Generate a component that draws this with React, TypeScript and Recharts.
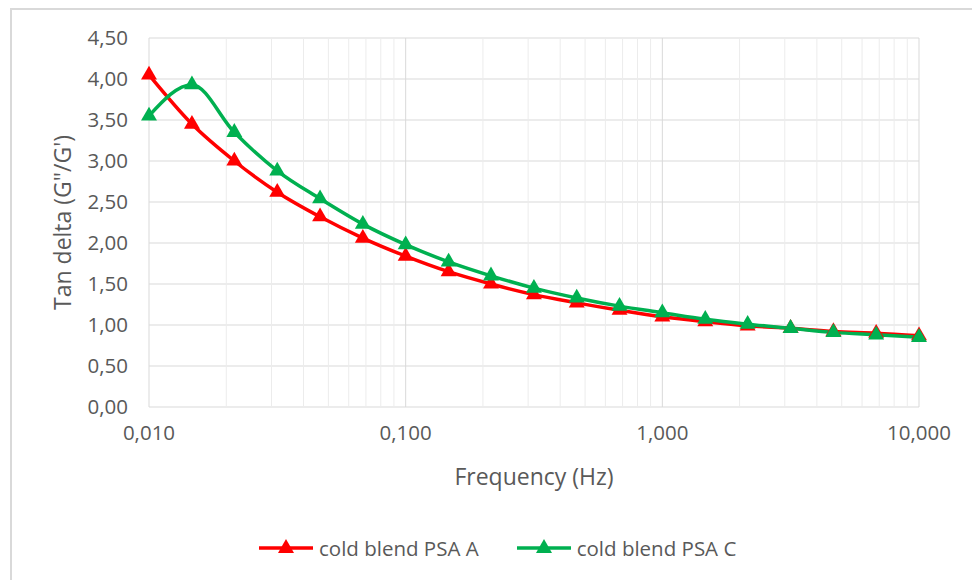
import React from 'react'
import {
  CartesianGrid,
  Line,
  LineChart,
  ReferenceLine,
  Symbols,
  XAxis,
  YAxis,
} from 'recharts'

// Frequenzen (Hz), 6 Punkte pro Dekade
const freq = [
  0.01, 0.0147, 0.0215, 0.0316, 0.0464, 0.0681, 0.1, 0.147, 0.215, 0.316, 0.464,
  0.681, 1, 1.47, 2.15, 3.16, 4.64, 6.81, 10,
]
const psaA = [
  4.05, 3.45, 3.0, 2.62, 2.32, 2.06, 1.84, 1.65, 1.5, 1.37, 1.27, 1.18, 1.1, 1.04,
  0.99, 0.96, 0.92, 0.9, 0.87,
]
const psaC = [
  3.55, 3.93, 3.35, 2.88, 2.54, 2.23, 1.98, 1.77, 1.6, 1.45, 1.33, 1.23, 1.15, 1.07,
  1.01, 0.96, 0.91, 0.88, 0.85,
]
const xTicks = [0.01, 0.1, 1, 10]
const yTicks = [0, 0.5, 1, 1.5, 2, 2.5, 3, 3.5, 4, 4.5]
const minorX = [
  0.02, 0.03, 0.04, 0.05, 0.06, 0.07, 0.08, 0.09, 0.2, 0.3, 0.4, 0.5, 0.6, 0.7, 0.8,
  0.9, 2, 3, 4, 5, 6, 7, 8, 9,
]
const series = [
  { key: 'a', name: 'cold blend PSA A', color: '#ff0000' },
  { key: 'c', name: 'cold blend PSA C', color: '#00b050' },
]

const data = freq.map((f, i) => ({ f, a: psaA[i], c: psaC[i] }))

const FONT = '"Open Sans", "Noto Sans", sans-serif'
const TEXT = '#595959'

const comma = (v: number, d: number) => v.toFixed(d).replace('.', ',')

function triangleDot(color: string) {
  return (p: any) => (
    <Symbols
      key={`dot-${p.index}`}
      cx={p.cx}
      cy={p.cy}
      type="triangle"
      size={110}
      fill={color}
      stroke="none"
    />
  )
}

export default function App() {
  return (
    <div
      style={{
        position: 'absolute',
        left: 0,
        top: 0,
        width: 972,
        height: 580,
        overflow: 'hidden',
        background: '#fff',
        fontFamily: FONT,
      }}
    >
      <div
        style={{
          position: 'absolute',
          left: 10,
          top: 8,
          width: 1000,
          height: 600,
          borderLeft: '2px solid #d9d9d9',
          borderTop: '2px solid #d9d9d9',
        }}
      />
      <div style={{ position: 'absolute', left: 0, top: 0 }}>
        <LineChart
          width={972}
          height={580}
          data={data}
          margin={{ top: 38, right: 53, left: 40, bottom: 73 }}
          style={{ fontFamily: FONT }}
        >
          <CartesianGrid stroke="#d9d9d9" strokeWidth={1} />
          {minorX.map((v) => (
            <ReferenceLine key={v} x={v} stroke="#ececec" strokeWidth={1} />
          ))}
          <XAxis
            dataKey="f"
            type="number"
            scale="log"
            domain={[0.01, 10]}
            ticks={xTicks}
            tickFormatter={(v) => comma(v, 3)}
            tick={{ fontSize: 20.5, fill: TEXT }}
            tickLine={false}
            axisLine={false}
            tickSize={0}
            tickMargin={18}
            height={100}
            label={{
              content: ({ viewBox }: any) => (
                <text
                  x={viewBox.x + viewBox.width / 2}
                  y={viewBox.y + 78}
                  textAnchor="middle"
                  fontSize={23}
                  fill={TEXT}
                >
                  Frequency (Hz)
                </text>
              ),
            }}
          />
          <YAxis
            type="number"
            domain={[0, 4.5]}
            ticks={yTicks}
            tickFormatter={(v) => comma(v, 2)}
            tick={{ fontSize: 20.5, fill: TEXT }}
            tickLine={false}
            axisLine={false}
            tickSize={0}
            tickMargin={21}
            width={109}
            label={{
              content: ({ viewBox }: any) => {
                const cy = viewBox.y + viewBox.height / 2
                return (
                  <text
                    x={62}
                    y={cy}
                    transform={`rotate(-90 62 ${cy})`}
                    textAnchor="middle"
                    dominantBaseline="central"
                    fontSize={23}
                    fill={TEXT}
                  >
                    Tan delta (G"/G')
                  </text>
                )
              },
            }}
          />
          {series.map((s) => (
            <Line
              key={s.key}
              dataKey={s.key}
              name={s.name}
              type="monotone"
              stroke={s.color}
              strokeWidth={3.5}
              dot={triangleDot(s.color)}
              activeDot={false}
              isAnimationActive={false}
            />
          ))}
        </LineChart>
      </div>
      <div
        style={{
          position: 'absolute',
          top: 533,
          left: 259,
          display: 'flex',
          gap: 38,
          fontSize: 20.5,
          color: TEXT,
        }}
      >
        {series.map((s) => (
          <div key={s.key} style={{ display: 'flex', alignItems: 'center', gap: 6 }}>
            <svg width={54} height={30}>
              <line x1={0} y1={15} x2={54} y2={15} stroke={s.color} strokeWidth={3.5} />
              <polygon points="27,6 35,20 19,20" fill={s.color} />
            </svg>
            <span style={{ lineHeight: '30px', whiteSpace: 'nowrap' }}>{s.name}</span>
          </div>
        ))}
      </div>
    </div>
  )
}
